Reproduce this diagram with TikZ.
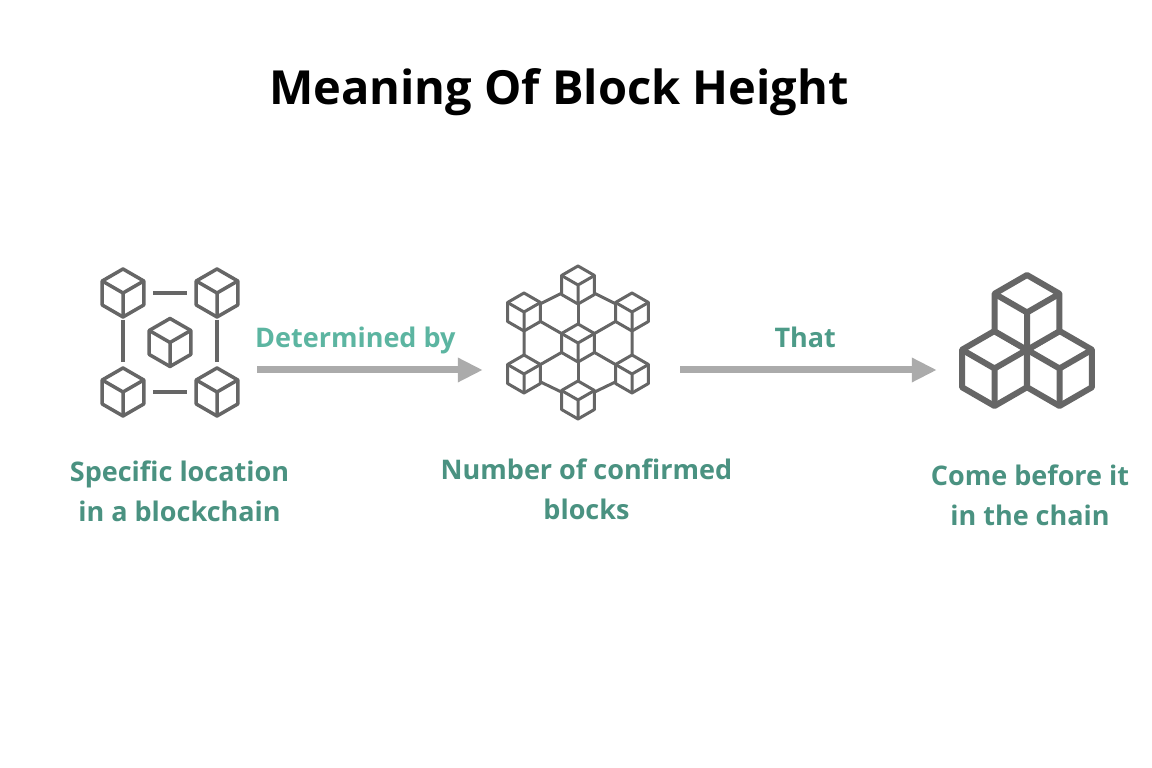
\documentclass[tikz,border=0pt]{standalone}
\usepackage{fontspec}
\setmainfont{Open Sans}
\usetikzlibrary{arrows.meta}
\definecolor{cubegray}{HTML}{666666}
\definecolor{arrowgray}{HTML}{ABABAB}
\definecolor{tealtext}{HTML}{4A9281}
\definecolor{teallight}{HTML}{5CB5A1}
\definecolor{tealmid}{HTML}{4D9B88}

\begin{document}
\begin{tikzpicture}[x=1pt,y=1pt,
	cube/.pic={
		\draw[fill=white] (90:1) -- (150:1) -- (210:1) -- (270:1) -- (330:1) -- (30:1) -- cycle;
		\draw (150:1) -- (0,0) -- (30:1) (0,0) -- (270:1);
	},
	iconbox/.style={minimum width=174pt,minimum height=160pt,inner sep=0pt},
	link/.style={-{Triangle[length=25pt,width=23pt]},line width=7pt,draw=arrowgray},
	blocktext/.style={font=\fontsize{27}{40}\selectfont\bfseries,text=tealtext,align=center,inner sep=0pt},
	linktext/.style={font=\fontsize{27}{40}\selectfont\bfseries,anchor=base,yshift=22pt,inner sep=0pt}]
	\useasboundingbox[fill=white] (0,0) rectangle (1152,768);

	\node[font=\fontsize{47}{56}\selectfont\bfseries,anchor=base] (title) at (559,663) {Meaning Of Block Height};

	% icons
	\node[iconbox] (loc) at (170,425) {};
	\node[iconbox] (conf) at (578,425) {};
	\node[iconbox] (pile) at (1027,425) {};

	% location: four cubes and one in the middle
	\draw[cubegray,line width=3.5pt] (153,475) -- (187,475) (153,376) -- (187,376)
		(123,448) -- (123,406) (217,448) -- (217,406);
	\foreach \p in {(123,475),(217,475),(123,376),(217,376),(170,425.5)}
		\pic[scale=24,draw=cubegray,line width=3.5pt,line join=round] at \p {cube};

	% confirmed blocks: hexagon wheel
	\draw[cubegray,line width=3pt] (578,483) -- (632,456) -- (632,394) -- (578,368)
		-- (524,394) -- (524,456) -- cycle;
	\foreach \p in {(578,483),(632,456),(632,394),(578,368),(524,394),(524,456)}
		\draw[cubegray,line width=3pt] (578,425) -- \p;
	\foreach \p in {(578,483),(632,456),(632,394),(578,368),(524,394),(524,456),(578,425)}
		\pic[scale=19,draw=cubegray,line width=3pt,line join=round] at \p {cube};

	% three stacked cubes
	\foreach \p in {(994.5,399.5),(1059.5,399.5),(1027,455.5)}
		\pic[scale=37.5,draw=cubegray,line width=6pt,line join=round] at \p {cube};

	% arrows
	\draw[link,shorten >=8pt] ([yshift=-27pt]loc.east) -- ([yshift=-27pt]conf.west)
		node[linktext,text=teallight,pos=.42] {Determined by};
	\draw[link,shorten <=15pt,shorten >=3pt] ([yshift=-27pt]conf.east) -- ([yshift=-27pt]pile.west)
		node[linktext,text=tealmid,pos=.51] {That};

	% texts
	\node[blocktext] (loctext) at (179.5,277) {Specific location\\in a blockchain};
	\node[blocktext] (conftext) at (586.5,279) {Number of confirmed\\blocks};
	\node[blocktext] (piletext) at (1030,273) {Come before it\\in the chain};
\end{tikzpicture}
\end{document}
